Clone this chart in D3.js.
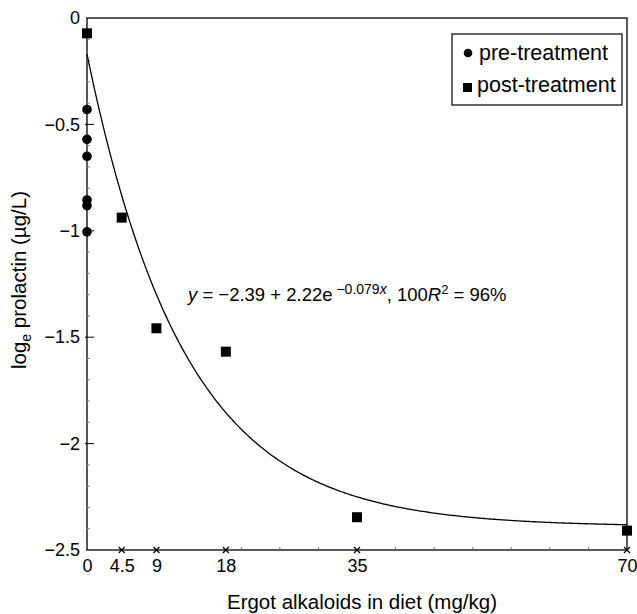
<!DOCTYPE html>
<html>
<head>
<meta charset="utf-8">
<script src="https://cdn.jsdelivr.net/npm/d3@7"></script>
<style>
  html, body { margin: 0; padding: 0; background: #fff; }
  svg { display: block; font-family: "Liberation Sans", Arial, sans-serif; }
</style>
</head>
<body>
<svg id="chart" width="637" height="614"></svg>
<script>
// ---- data ----
const preDose = [0, 0, 0, 0, 0, 0];
const preValues = [-0.43, -0.57, -0.65, -0.855, -0.882, -1.005];
const postDose = [0, 4.5, 9, 18, 35, 70];
const postValues = [-0.072, -0.938, -1.458, -1.568, -2.346, -2.409];
const xTickValues = [0, 4.5, 9, 18, 35, 70];
const xTickLabels = ["0", "4.5", "9", "18", "35", "70"];
const xCrossMarks = [4.5, 9, 18, 35, 70];
const xMinorTicks = [20, 25, 30, 40, 45, 50, 55, 60, 65];
const yTickValues = [0, -0.5, -1, -1.5, -2, -2.5];
const yTickLabels = ["0", "\u22120.5", "\u22121", "\u22121.5", "\u22122", "\u22122.5"];
const yMinorTicks = [-0.1, -0.2, -0.3, -0.4, -0.6, -0.7, -0.8, -0.9, -1.1, -1.2, -1.3, -1.4,
                     -1.6, -1.7, -1.8, -1.9, -2.1, -2.2, -2.3, -2.4];
// fitted curve y = a + b*exp(c*x) as printed on the chart
const fitA = -2.39, fitB = 2.22, fitC = -0.079;
const legendLabels = ["pre-treatment", "post-treatment"];

// ---- layout ----
const svg = d3.select("#chart");
const mLeft = 87, mRight = 627, mTop = 18, mBottom = 550;
const x = d3.scaleLinear().domain([0, 70]).range([mLeft, mRight]);
const y = d3.scaleLinear().domain([-2.5, 0]).range([mBottom, mTop]);

// frame
svg.append("rect").attr("x", mLeft).attr("y", mTop)
  .attr("width", mRight - mLeft).attr("height", mBottom - mTop)
  .attr("fill", "none").attr("stroke", "#000").attr("stroke-width", 1.3);

// y axis
const yAxis = d3.axisLeft(y).tickValues(yTickValues)
  .tickFormat((d, i) => yTickLabels[i]).tickSize(0).tickPadding(7);
const gy = svg.append("g").attr("transform", `translate(${mLeft},0)`).call(yAxis);
gy.select(".domain").remove();
gy.selectAll("text").attr("font-size", 18).attr("font-family", "Liberation Sans, Arial, sans-serif").attr("fill", "#000");
// major inner ticks
svg.append("g").selectAll("line").data(yTickValues.slice(1, -1)).join("line")
  .attr("x1", mLeft - 2).attr("x2", mLeft + 7)
  .attr("y1", d => y(d)).attr("y2", d => y(d))
  .attr("stroke", "#000").attr("stroke-width", 1);
// minor ticks
svg.append("g").selectAll("line").data(yMinorTicks).join("line")
  .attr("x1", mLeft).attr("x2", mLeft + 3)
  .attr("y1", d => y(d)).attr("y2", d => y(d))
  .attr("stroke", "#888").attr("stroke-width", 1);

// x axis
const xAxis = d3.axisBottom(x).tickValues(xTickValues)
  .tickFormat((d, i) => xTickLabels[i]).tickSize(0).tickPadding(9);
const gx = svg.append("g").attr("transform", `translate(0,${mBottom})`).call(xAxis);
gx.select(".domain").remove();
gx.selectAll("text").attr("font-size", 18).attr("font-family", "Liberation Sans, Arial, sans-serif").attr("fill", "#000");
// x minor ticks
svg.append("g").selectAll("line").data(xMinorTicks).join("line")
  .attr("x1", d => x(d)).attr("x2", d => x(d))
  .attr("y1", mBottom).attr("y2", mBottom - 3)
  .attr("stroke", "#777").attr("stroke-width", 1);
// cross marks on x axis
const cs = 3;
const crosses = svg.append("g").selectAll("g").data(xCrossMarks).join("g")
  .attr("transform", d => `translate(${x(d)},${mBottom})`);
crosses.append("line").attr("x1", -cs).attr("y1", -cs).attr("x2", cs).attr("y2", cs).attr("stroke", "#000").attr("stroke-width", 1.2);
crosses.append("line").attr("x1", -cs).attr("y1", cs).attr("x2", cs).attr("y2", -cs).attr("stroke", "#000").attr("stroke-width", 1.2);

// axis titles
svg.append("text").attr("x", 362).attr("y", 609).attr("text-anchor", "middle")
  .attr("font-size", 20.5).text("Ergot alkaloids in diet (mg/kg)");
const yt = svg.append("text").attr("transform", "translate(26,280) rotate(-90)")
  .attr("text-anchor", "middle").attr("font-size", 20.5);
yt.append("tspan").text("log");
yt.append("tspan").attr("font-size", 14).attr("dy", 5).text("e");
yt.append("tspan").attr("dy", -5).text(" prolactin (\u00b5g/L)");

// fitted curve
const curveXs = d3.range(0, 70.01, 0.25);
const line = d3.line().x(d => x(d)).y(d => y(fitA + fitB * Math.exp(fitC * d))).curve(d3.curveLinear);
svg.append("path").datum(curveXs).attr("d", line)
  .attr("fill", "none").attr("stroke", "#000").attr("stroke-width", 1.3);

// points
svg.append("g").selectAll("circle").data(preValues).join("circle")
  .attr("cx", (d, i) => x(preDose[i])).attr("cy", d => y(d)).attr("r", 4.8).attr("fill", "#000");
const sq = 10;
svg.append("g").selectAll("rect").data(postValues).join("rect")
  .attr("x", (d, i) => x(postDose[i]) - sq / 2).attr("y", d => y(d) - sq / 2)
  .attr("width", sq).attr("height", sq).attr("fill", "#000");

// annotation
const ann = svg.append("text").attr("x", 188).attr("y", 301).attr("font-size", 18.5);
ann.append("tspan").attr("font-style", "italic").text("y");
ann.append("tspan").text(" = \u22122.39 + 2.22e");
ann.append("tspan").attr("font-size", 14).attr("dy", -7).text(" \u22120.079");
ann.append("tspan").attr("font-size", 14).attr("font-style", "italic").text("x");
ann.append("tspan").attr("dy", 7).text(", 100");
ann.append("tspan").attr("font-style", "italic").text("R");
ann.append("tspan").attr("font-size", 13).attr("dy", -7).text("2");
ann.append("tspan").attr("dy", 7).text(" = 96%");

// legend
const lg = svg.append("g");
lg.append("rect").attr("x", 452).attr("y", 34).attr("width", 170).attr("height", 71)
  .attr("fill", "#fff").attr("stroke", "#000").attr("stroke-width", 1.2);
lg.append("circle").attr("cx", 468).attr("cy", 53).attr("r", 4.3).attr("fill", "#000");
lg.append("rect").attr("x", 463).attr("y", 83).attr("width", 9).attr("height", 9).attr("fill", "#000");
lg.selectAll("text").data(legendLabels).join("text")
  .attr("x", (d, i) => i === 0 ? 479 : 477).attr("y", (d, i) => 60 + i * 32)
  .attr("font-size", 21.5).text(d => d);
</script>
</body>
</html>
